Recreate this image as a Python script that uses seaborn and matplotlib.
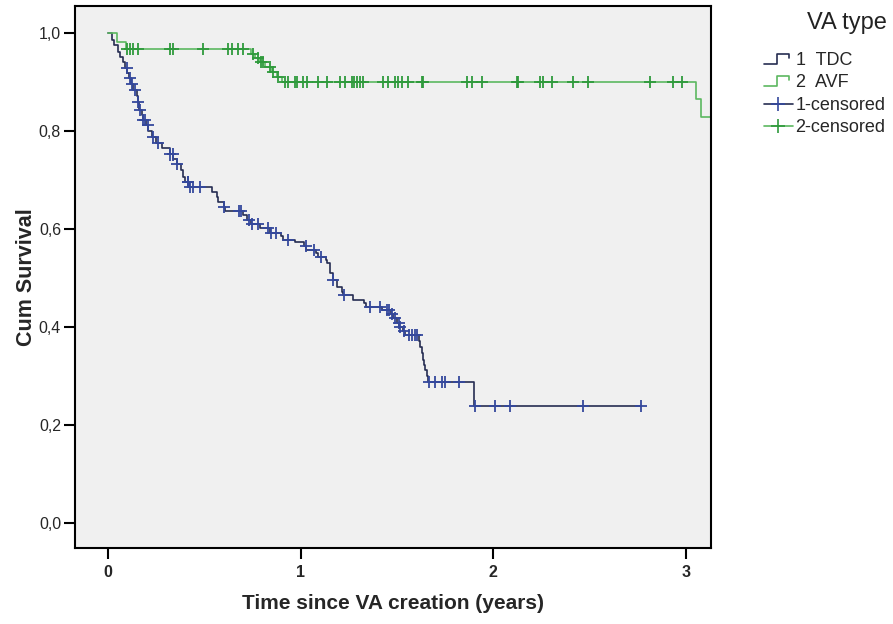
import numpy as np
import pandas as pd
import matplotlib
matplotlib.use("Agg")
import matplotlib.pyplot as plt
import seaborn as sns
from matplotlib.legend_handler import HandlerBase
from matplotlib.lines import Line2D

# Kaplan-Meier steps: time of each drop (years) and survival after it
tdc_event_times = [0.02, 0.03, 0.05, 0.06, 0.08, 0.09, 0.10, 0.11, 0.12, 0.13,
                   0.15, 0.155, 0.16, 0.175, 0.18, 0.20, 0.21, 0.23, 0.25, 0.28,
                   0.32, 0.34, 0.36, 0.38, 0.39, 0.40, 0.42, 0.54, 0.565, 0.57,
                   0.60, 0.61, 0.70, 0.72, 0.74, 0.79, 0.84, 0.90, 0.91, 0.97,
                   1.02, 1.03, 1.08, 1.09, 1.13, 1.135, 1.15, 1.155, 1.17, 1.19,
                   1.215, 1.22, 1.27, 1.33, 1.34, 1.42, 1.47, 1.48, 1.50, 1.51,
                   1.53, 1.54, 1.615, 1.62, 1.63, 1.635, 1.64, 1.645, 1.655, 1.66,
                   1.90]
tdc_survival = [0.985, 0.975, 0.962, 0.950, 0.940, 0.928, 0.918, 0.908, 0.896, 0.884,
                0.872, 0.860, 0.843, 0.832, 0.822, 0.812, 0.800, 0.788, 0.776, 0.765,
                0.752, 0.742, 0.732, 0.720, 0.707, 0.696, 0.686, 0.676, 0.666, 0.655,
                0.645, 0.637, 0.628, 0.619, 0.610, 0.601, 0.592, 0.585, 0.578, 0.573,
                0.565, 0.557, 0.550, 0.543, 0.537, 0.530, 0.520, 0.510, 0.496, 0.482,
                0.472, 0.465, 0.455, 0.448, 0.441, 0.435, 0.426, 0.418, 0.408, 0.400,
                0.392, 0.384, 0.372, 0.359, 0.346, 0.333, 0.322, 0.312, 0.300, 0.288,
                0.239]
tdc_censor_times = [0.099, 0.115, 0.125, 0.141, 0.157, 0.167, 0.183, 0.193, 0.209, 0.235,
                    0.261, 0.324, 0.339, 0.360, 0.413, 0.418, 0.428, 0.444, 0.480, 0.600,
                    0.680, 0.690, 0.730, 0.750, 0.780, 0.830, 0.846, 0.872, 0.935, 1.029,
                    1.070, 1.107, 1.170, 1.227, 1.358, 1.410, 1.446, 1.457, 1.473, 1.488,
                    1.509, 1.514, 1.535, 1.561, 1.577, 1.593, 1.603, 1.666, 1.697, 1.734,
                    1.749, 1.822, 1.906, 2.010, 2.089, 2.465, 2.768]

avf_event_times = [0.047, 0.094, 0.745, 0.765, 0.79, 0.815, 0.85, 0.875, 0.905, 3.05, 3.08]
avf_survival = [0.982, 0.968, 0.958, 0.949, 0.940, 0.930, 0.920, 0.910, 0.899, 0.865, 0.829]
avf_censor_times = [0.099, 0.114, 0.130, 0.156, 0.322, 0.337, 0.493, 0.623, 0.643, 0.675,
                    0.701, 0.752, 0.778, 0.794, 0.804, 0.841, 0.856, 0.882, 0.919, 0.934,
                    0.970, 0.981, 1.012, 1.033, 1.090, 1.137, 1.204, 1.230, 1.266, 1.277,
                    1.292, 1.308, 1.323, 1.427, 1.453, 1.489, 1.505, 1.526, 1.557, 1.629,
                    1.635, 1.863, 1.889, 1.941, 2.122, 2.128, 2.242, 2.257, 2.304, 2.413,
                    2.491, 2.813, 2.932, 2.979, 3.200]

group_labels = ["1  TDC", "2  AVF"]
censor_labels = ["1-censored", "2-censored"]
legend_title = "VA type"
x_ticks = [0, 1, 2, 3]
y_ticks = [0.0, 0.2, 0.4, 0.6, 0.8, 1.0]
y_tick_labels = ["0,0", "0,2", "0,4", "0,6", "0,8", "1,0"]

line_colors = {"1  TDC": "#262d52", "2  AVF": "#5cb860"}
mark_colors = {"1  TDC": "#34489c", "2  AVF": "#2f9a3c"}


def step_frame(times, surv, censors, label):
    end = max(max(censors), max(times))
    t = [0.0] + list(times) + [end]
    s = [1.0] + list(surv) + [surv[-1]]
    return pd.DataFrame({"time": t, "survival": s, "group": label})


def censor_frame(times, surv, censors, label):
    idx = np.searchsorted(np.asarray(times), np.asarray(censors), side="right")
    levels = np.where(idx == 0, 1.0, np.asarray(surv)[np.maximum(idx - 1, 0)])
    return pd.DataFrame({"time": censors, "survival": levels, "group": label})


curves = pd.concat([
    step_frame(tdc_event_times, tdc_survival, tdc_censor_times, group_labels[0]),
    step_frame(avf_event_times, avf_survival, avf_censor_times, group_labels[1]),
], ignore_index=True)
censored = pd.concat([
    censor_frame(tdc_event_times, tdc_survival, tdc_censor_times, group_labels[0]),
    censor_frame(avf_event_times, avf_survival, avf_censor_times, group_labels[1]),
], ignore_index=True)

sns.set_theme(style="ticks")
plt.rcParams["font.family"] = ["Liberation Sans", "DejaVu Sans"]

fig = plt.figure(figsize=(8.93, 6.24), dpi=100)
ax = fig.add_axes([75 / 893, 1 - 548 / 624, (711 - 75) / 893, (548 - 6) / 624])
ax.set_facecolor("#f0f0f0")

sns.lineplot(data=curves, x="time", y="survival", hue="group", palette=line_colors,
             drawstyle="steps-post", estimator=None, sort=False, legend=False,
             linewidth=1.2, ax=ax)
sns.scatterplot(data=censored, x="time", y="survival", hue="group", palette=mark_colors,
                marker="+", s=75, linewidth=1.3, legend=False, ax=ax, zorder=3)

ax.set_xlim(-0.171, 3.13)
ax.set_ylim(-0.051, 1.055)
ax.set_xticks(x_ticks)
ax.set_xticklabels([str(v) for v in x_ticks], fontweight="bold", fontsize=11.5)
ax.set_yticks(y_ticks)
ax.set_yticklabels(y_tick_labels, fontsize=11.5)
ax.tick_params(direction="out", length=8, width=1.5, color="black", pad=2)
ax.tick_params(axis="x", pad=4)
for sp in ax.spines.values():
    sp.set_visible(True)
    sp.set_color("black")
    sp.set_linewidth(1.5)

ax.set_xlabel("Time since VA creation (years)", fontsize=15, fontweight="bold", labelpad=10)
ax.set_ylabel("Cum Survival", fontsize=15.5, fontweight="bold", labelpad=1.5)


class StepHandler(HandlerBase):
    def create_artists(self, legend, orig_handle, xdescent, ydescent, width, height,
                       fontsize, trans):
        w, h = width, height
        xs = [0, 0.45 * w, 0.45 * w, 0.88 * w, 0.88 * w]
        ys = [0.1 * h, 0.1 * h, 0.9 * h, 0.9 * h, 0.55 * h]
        line = Line2D(np.array(xs) - xdescent, np.array(ys) - ydescent,
                      color=orig_handle.get_color(), linewidth=1.2)
        line.set_transform(trans)
        return [line]


handles = [
    Line2D([], [], color=line_colors[group_labels[0]]),
    Line2D([], [], color=line_colors[group_labels[1]]),
    Line2D([], [], color=line_colors[group_labels[0]], linewidth=1.2, marker="+",
           markersize=10, markeredgewidth=1.2, markeredgecolor=mark_colors[group_labels[0]]),
    Line2D([], [], color=line_colors[group_labels[1]], linewidth=1.2, marker="+",
           markersize=10, markeredgewidth=1.2, markeredgecolor=mark_colors[group_labels[1]]),
]
fig.text(887 / 893, 1 - 23 / 624, legend_title, ha="right", va="center", fontsize=17,
         color="#222222")
fig.legend(handles, group_labels + censor_labels,
           loc="upper left", bbox_to_anchor=(764 / 893, 1 - 52 / 624),
           frameon=False, fontsize=13, handlelength=1.6, handletextpad=0.15,
           labelspacing=0.3, borderpad=0, borderaxespad=0,
           handler_map={handles[0]: StepHandler(), handles[1]: StepHandler()})

fig.savefig("out.png", dpi=100)
